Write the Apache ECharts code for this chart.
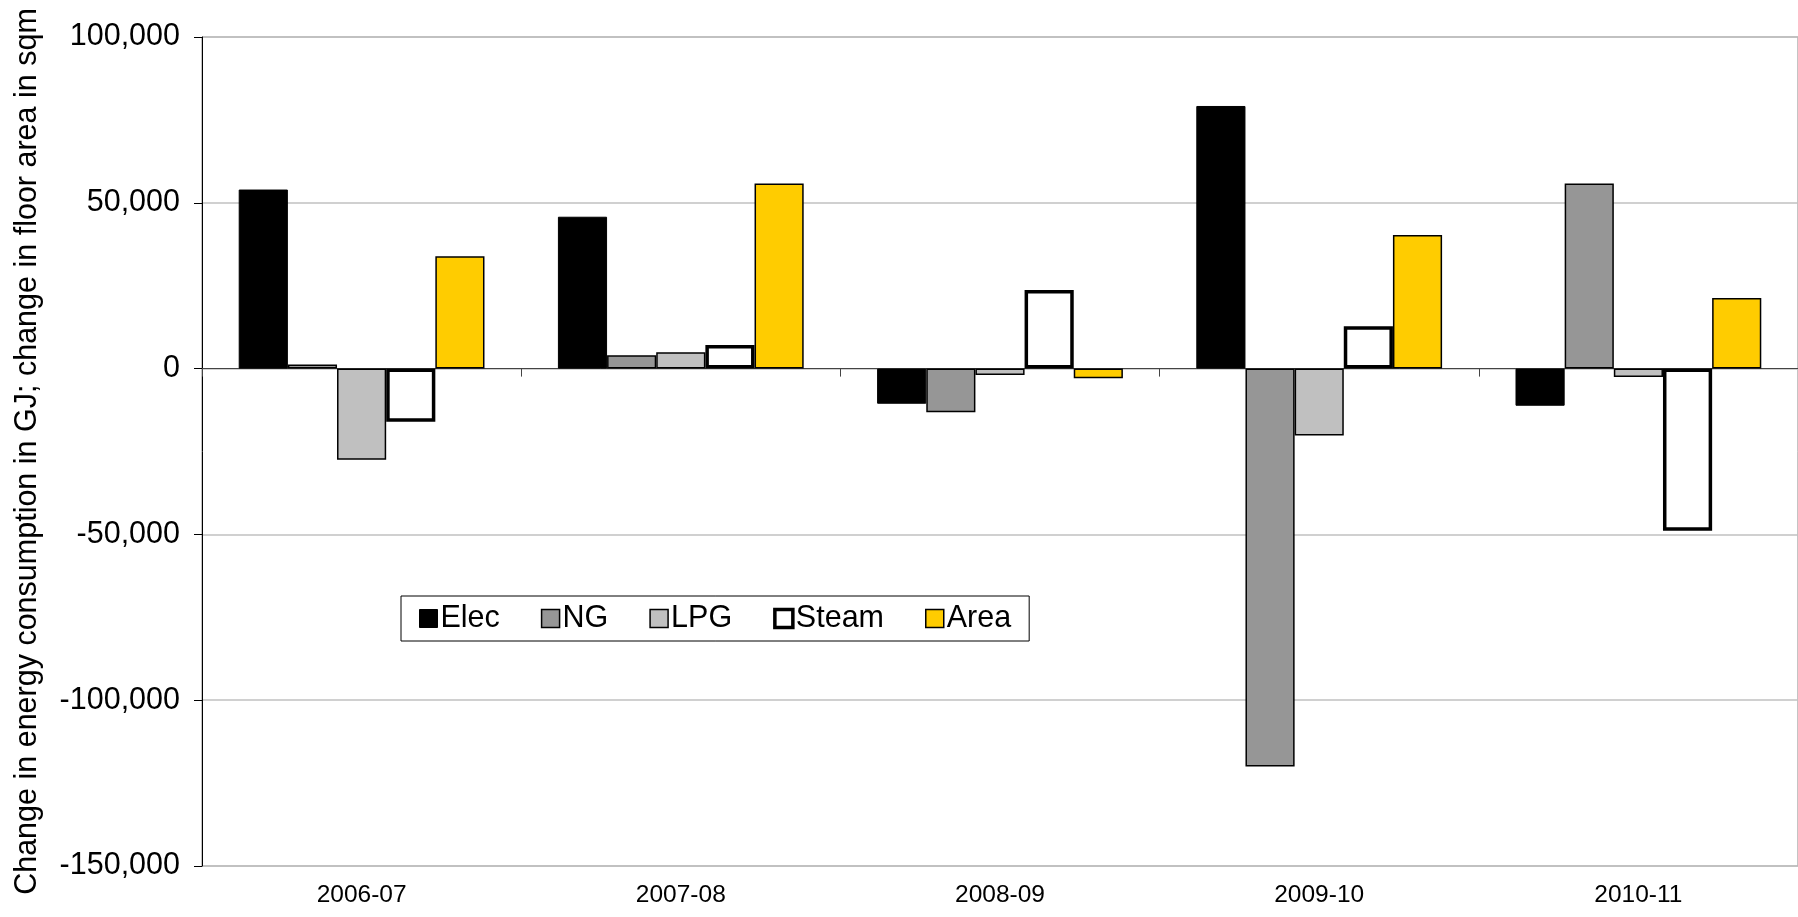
<!DOCTYPE html>
<html>
<head>
<meta charset="utf-8">
<script src="https://cdn.jsdelivr.net/npm/echarts@6/dist/echarts.min.js"></script>
<style>
html,body{margin:0;padding:0;background:#fff;}
#chart{width:1798px;height:917px;}
</style>
</head>
<body>
<div id="chart"></div>
<script>
const categories = ['2006-07', '2007-08', '2008-09', '2009-10', '2010-11'];
const elec  = [54000, 45800, -10600, 79200, -11200];
const ng    = [1200, 4000, -13200, -120000, 55800];
const lpg   = [-27500, 4900, -1900, -20200, -2500];
const steam = [-16000, 7100, 23700, 12800, -48900];
const area  = [33900, 55800, -2900, 40300, 21300];
const yTicks = { min: -150000, max: 100000, interval: 50000 };
const yAxisName = 'Change in energy consumption in GJ; change in floor area in sqm';

const FONT = '"Liberation Sans", Arial, sans-serif';
const chart = echarts.init(document.getElementById('chart'));

function mk(name, data, fill, bw) {
  return {
    name: name, type: 'bar', data: data, xAxisIndex: 0,
    barGap: '0%', barCategoryGap: '23%',
    itemStyle: { color: fill, borderColor: '#000', borderWidth: bw },
    emphasis: { disabled: true }
  };
}

chart.setOption({
  animation: false,
  textStyle: { fontFamily: FONT },
  grid: {
    left: 202, right: -8, top: 37, bottom: 51,
    show: true, borderColor: '#888', borderWidth: 1, backgroundColor: 'transparent'
  },
  legend: {
    left: 401, top: 596, icon: 'rect',
    padding: [7, 18, 7, 18],
    itemGap: 41, itemWidth: 18, itemHeight: 18,
    borderColor: '#000', borderWidth: 1, backgroundColor: '#fff',
    textStyle: { fontFamily: FONT, fontSize: 30.5, color: '#000', padding: [0, 0, 0, -2] },
    data: [
      { name: 'Elec', itemStyle: { color: '#000', borderColor: '#000', borderWidth: 1 } },
      { name: 'NG', itemStyle: { color: '#969696', borderColor: '#000', borderWidth: 1.5 } },
      { name: 'LPG', itemStyle: { color: '#c0c0c0', borderColor: '#000', borderWidth: 1.5 } },
      { name: 'Steam', itemStyle: { color: '#fff', borderColor: '#000', borderWidth: 3.5 } },
      { name: 'Area', itemStyle: { color: '#ffcc00', borderColor: '#000', borderWidth: 1.5 } }
    ]
  },
  xAxis: [
    {
      type: 'category', data: categories, position: 'bottom',
      axisLine: { show: false, onZero: false },
      axisTick: { show: false },
      axisLabel: { fontFamily: FONT, fontSize: 24.5, color: '#000', margin: 17 },
      splitLine: { show: false }
    },
    {
      type: 'category', data: categories, position: 'bottom',
      axisLine: { show: true, onZero: true, lineStyle: { color: '#444', width: 1 } },
      axisTick: { show: true, inside: false, length: 8, lineStyle: { color: '#444' } },
      axisLabel: { show: false },
      splitLine: { show: false }
    }
  ],
  yAxis: {
    type: 'value',
    min: yTicks.min, max: yTicks.max, interval: yTicks.interval,
    name: yAxisName, nameLocation: 'middle', nameGap: 159, nameRotate: 90,
    nameTextStyle: { fontFamily: FONT, fontSize: 30.5, color: '#000' },
    axisLine: { show: true, lineStyle: { color: '#000', width: 1 } },
    axisTick: { show: true, length: 8, lineStyle: { color: '#000' } },
    axisLabel: {
      fontFamily: FONT, fontSize: 30.5, color: '#000', margin: 22,
      formatter: v => v.toLocaleString('en-US')
    },
    splitLine: { show: true, lineStyle: { color: '#c0c0c0', width: 1.5 } }
  },
  series: [
    mk('Elec', elec, '#000', 1),
    mk('NG', ng, '#969696', 1.5),
    mk('LPG', lpg, '#c0c0c0', 1.5),
    mk('Steam', steam, '#fff', 3.5),
    mk('Area', area, '#ffcc00', 1.5)
  ]
});
</script>
</body>
</html>
